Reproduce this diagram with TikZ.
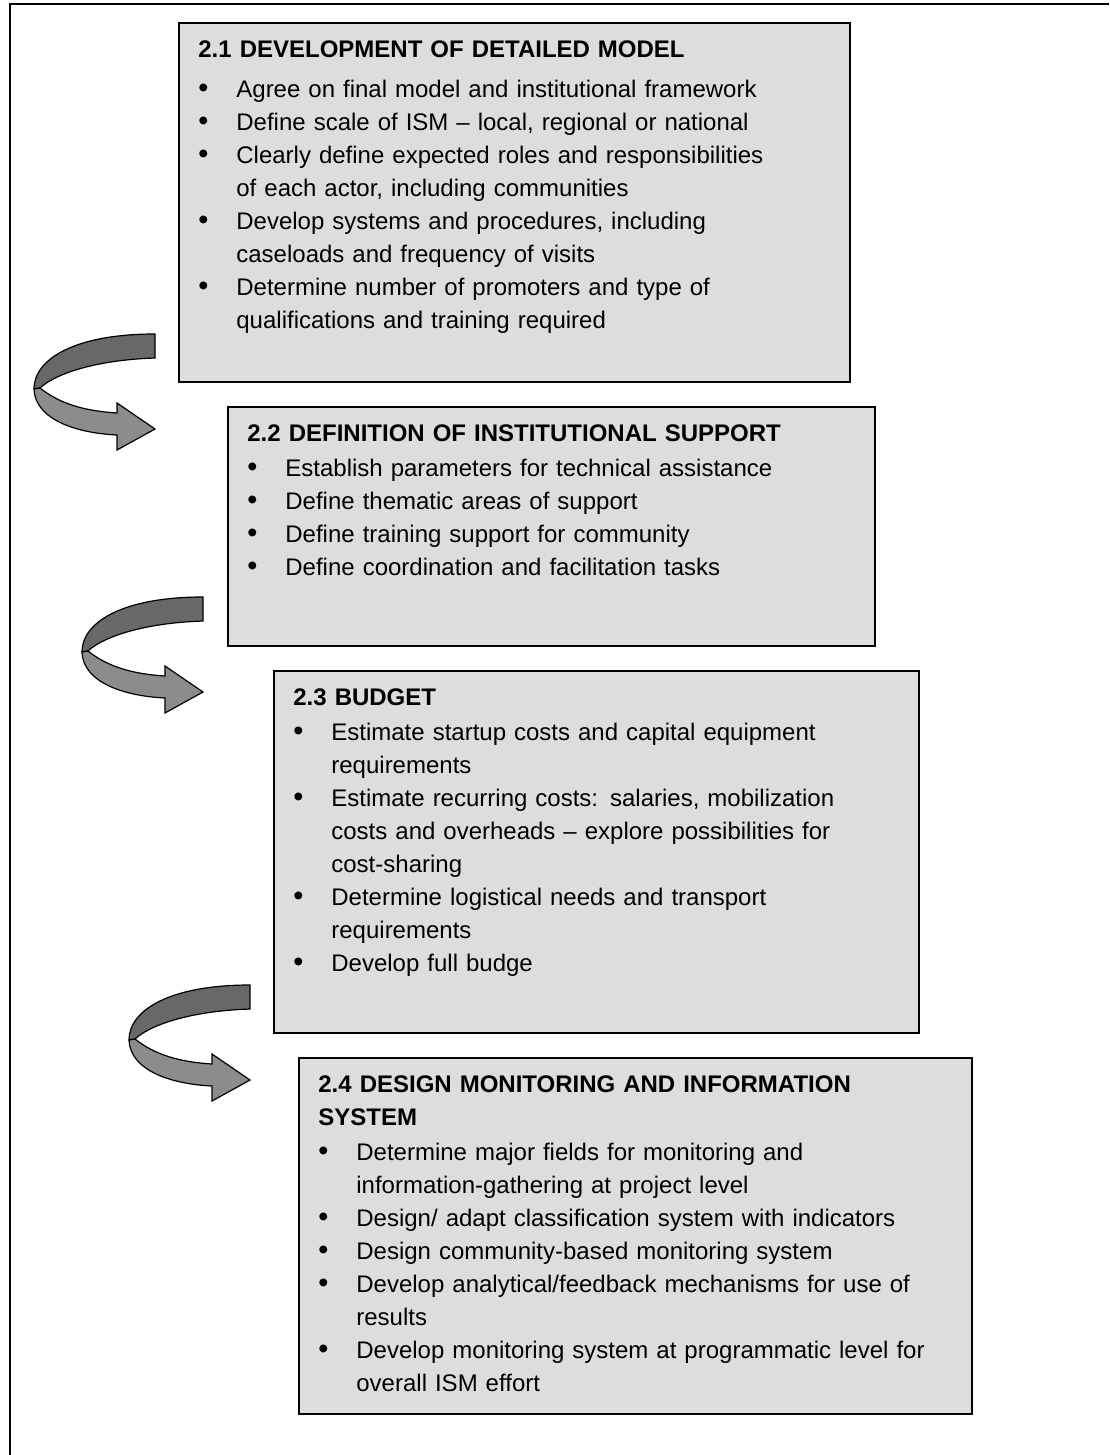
\documentclass[tikz,border=0pt]{standalone}
\usepackage{fontspec}
\setmainfont{Liberation Sans}
\usetikzlibrary{positioning}
\definecolor{boxgray}{RGB}{221,221,221}
\definecolor{backband}{RGB}{104,104,104}
\definecolor{frontband}{RGB}{140,140,140}
\newcommand{\stepitem}[2][0pt]{\par\vspace{#1}\hangindent=19pt\hangafter=1\noindent\makebox[19pt][l]{\scalebox{1.2}{\textbullet}}#2\par}
\tikzset{
    stepbox/.style={
        draw=black,
        fill=boxgray,
        line width=1pt,
        rectangle,
        anchor=north west,
        inner sep=0pt
    },
    steptext/.style={
        anchor=north west,
        inner sep=0pt,
        align=left,
        font=\fontsize{12}{16.5}\selectfont
    },
    turnarrow/.pic={
        \filldraw[fill=backband, draw=black, line width=0.6pt] (0,0) .. controls (-80,0) and (-121,25) .. (-121,55) -- (-115,54) .. controls (-100,40) and (-60,26) .. (0,24) -- cycle;
        \filldraw[fill=frontband, draw=black, line width=0.6pt] (-115,54) .. controls (-95,70) and (-70,77) .. (-38,79) -- (-38,69) -- (0,95) -- (-38,116) -- (-38,101) .. controls (-80,99) and (-120,85) .. (-121,55) -- cycle;
    }
}
\begin{document}
\begin{tikzpicture}[x=0.5pt, y=-0.5pt]
    \useasboundingbox (0,0) rectangle (1109,1455);
    % frame
    \draw[line width=1pt] (1109,4) -- (10,4) -- (10,1455);

    % boxes
    \node[stepbox, minimum width=335.5pt, minimum height=179.5pt] (dev) at (178,22) {};
    \node[stepbox, minimum width=323.5pt, minimum height=119.5pt] (support) at (227,406) {};
    \node[stepbox, minimum width=322.5pt, minimum height=181pt] (budget) at (273,670) {};
    \node[stepbox, minimum width=336.5pt, minimum height=178pt] (monitor) at (298,1057) {};

    % texts
    \node[steptext, text width=320pt] (devtext) at ([xshift=10pt, yshift=-9pt]dev.north west) {%
        \textbf{2.1 DEVELOPMENT OF DETAILED MODEL}
        \stepitem[3.5pt]{Agree on final model and institutional framework}
        \stepitem{Define scale of ISM -- local, regional or national}
        \stepitem{Clearly define expected roles and responsibilities\newline of each actor, including communities}
        \stepitem{Develop systems and procedures, including\newline caseloads and frequency of visits}
        \stepitem{Determine number of promoters and type of\newline qualifications and training required}};
    \node[steptext, text width=310pt] (supporttext) at ([xshift=10pt, yshift=-9pt]support.north west) {%
        \textbf{2.2 DEFINITION OF INSTITUTIONAL SUPPORT}
        \stepitem[1pt]{Establish parameters for technical assistance}
        \stepitem{Define thematic areas of support}
        \stepitem{Define training support for community}
        \stepitem{Define coordination and facilitation tasks}};
    \node[steptext, text width=310pt] (budgettext) at ([xshift=10pt, yshift=-9pt]budget.north west) {%
        \textbf{2.3 BUDGET}
        \stepitem[1pt]{Estimate startup costs and capital equipment\newline requirements}
        \stepitem{Estimate recurring costs: salaries, mobilization\newline costs and overheads -- explore possibilities for\newline cost-sharing}
        \stepitem{Determine logistical needs and transport\newline requirements}
        \stepitem{Develop full budge}};
    \node[steptext, text width=320pt] (monitortext) at ([xshift=10pt, yshift=-9pt]monitor.north west) {%
        \textbf{2.4 DESIGN MONITORING AND INFORMATION\newline SYSTEM}
        \stepitem[1pt]{Determine major fields for monitoring and\newline information-gathering at project level}
        \stepitem{Design/ adapt classification system with indicators}
        \stepitem{Design community-based monitoring system}
        \stepitem{Develop analytical/feedback mechanisms for use of\newline results}
        \stepitem{Develop monitoring system at programmatic level for\newline overall ISM effort}};

    % arrows
    \pic at (155,334) {turnarrow};
    \pic at (203,597) {turnarrow};
    \pic at (250,985) {turnarrow};
\end{tikzpicture}
\end{document}
